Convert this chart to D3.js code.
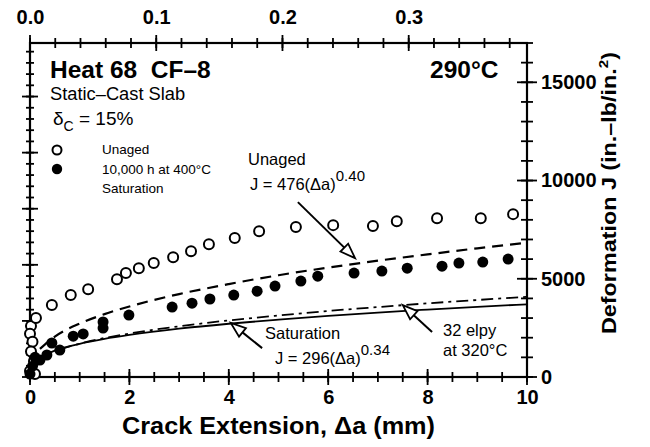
<!DOCTYPE html>
<html>
<head>
<meta charset="utf-8">
<script src="https://cdn.jsdelivr.net/npm/d3@7"></script>
<style>
  body { margin: 0; background: #fff; }
  svg { font-family: "Liberation Sans", Arial, Helvetica, sans-serif; }
</style>
</head>
<body>
<svg id="chart" width="650" height="447"></svg>
<script>
// open circles, unaged (crack ext in mm, J in in.-lb/in.^2)
let unagedDa = [0.0, 0.02, 0.0, 0.05, 0.02, 0.08, 0.1, 0.12, 0.44, 0.82, 1.17, 1.75, 1.93, 2.19, 2.49, 2.88, 3.24, 3.6, 4.12, 4.61, 5.35, 6.1, 6.9, 7.38, 8.19, 9.07, 9.72];
let unagedJ = [300, 2600, 2200, 1800, 1300, 800, 150, 3000, 3660, 4170, 4470, 4980, 5290, 5540, 5800, 6100, 6405, 6760, 7070, 7420, 7630, 7730, 7680, 7930, 8080, 8080, 8290];

// filled circles, 10,000 h at 400C
let agedDa = [0.0, 0.05, 0.1, 0.2, 0.34, 0.44, 0.6, 0.87, 1.07, 1.47, 1.47, 1.99, 2.86, 3.26, 3.62, 4.1, 4.57, 4.93, 5.45, 5.79, 6.52, 7.08, 7.59, 8.29, 8.63, 9.11, 9.62];
let agedJ = [150, 550, 1000, 860, 1120, 1730, 1370, 2080, 2190, 2490, 2800, 3150, 3560, 3760, 3970, 4170, 4370, 4630, 4880, 5130, 5290, 5390, 5540, 5640, 5800, 5850, 6000];

// fitted curves
let unagedFitDa = [0.2, 0.5, 1, 1.5, 2, 3, 4, 5, 6, 7, 8, 9, 10];
let unagedFitJ = [1430, 2060, 2720, 3200, 3590, 4220, 4730, 5180, 5570, 5920, 6240, 6550, 6830];
let satFitDa = [0.05, 0.1, 0.2, 0.5, 1, 1.5, 2, 3, 4, 5, 6, 7, 8, 9, 10];
let satFitJ = [610, 770, 980, 1340, 1690, 1940, 2140, 2460, 2710, 2920, 3110, 3280, 3430, 3570, 3700];
let elpyDa = [0.6, 1, 2, 3, 4, 5, 6, 7, 8, 9, 10];
let elpyJ = [1400, 1700, 2210, 2580, 2880, 3130, 3360, 3560, 3750, 3920, 4080];

let bottomLabels = [0, 2, 4, 6, 8, 10];
let topLabels = [0.0, 0.1, 0.2, 0.3];
let rightLabels = [0, 5000, 10000, 15000];

let svg = d3.select("#chart");
let pl = 30, pr = 527, pt = 43, pb = 377;

let x = d3.scaleLinear().domain([0, 10]).range([pl, pr]);
let xInch = d3.scaleLinear().domain([0, 10 / 25.4]).range([pl, pr]);
let y = d3.scaleLinear().domain([0, 17000]).range([pb, pt]);
let yKJ = d3.scaleLinear().domain([0, 17000 / 5.71]).range([pb, pt]);

// frame
svg.append("rect")
    .attr("x", pl).attr("y", pt)
    .attr("width", pr - pl).attr("height", pb - pt)
    .attr("fill", "none").attr("stroke", "#000").attr("stroke-width", 2.2);

// tick marks crossing an axis line
function hTicks(scale, vals, y0, half) {
    svg.append("g").selectAll("line").data(vals).join("line")
        .attr("x1", d => scale(d)).attr("x2", d => scale(d))
        .attr("y1", y0 - half).attr("y2", y0 + half)
        .attr("stroke", "#000").attr("stroke-width", 1.8);
}
function vTicks(scale, vals, x0, half) {
    svg.append("g").selectAll("line").data(vals).join("line")
        .attr("y1", d => scale(d)).attr("y2", d => scale(d))
        .attr("x1", x0 - half).attr("x2", x0 + half)
        .attr("stroke", "#000").attr("stroke-width", 1.8);
}
function labelsOnly(g) {
    g.select(".domain").remove();
    g.selectAll(".tick line").remove();
    g.selectAll("text").attr("font-size", 20).attr("font-weight", "bold").attr("fill", "#000");
}

// bottom axis
hTicks(x, d3.range(0, 10.01, 0.5), pb, 5);
hTicks(x, bottomLabels, pb, 8);
svg.append("g").attr("transform", `translate(0,${pb})`)
    .call(d3.axisBottom(x).tickValues(bottomLabels).tickSize(8).tickPadding(5))
    .call(labelsOnly);

// top axis (inches)
hTicks(xInch, d3.range(0, 0.39, 0.02), pt, 5);
hTicks(xInch, topLabels, pt, 8);
svg.append("g").attr("transform", `translate(0,${pt})`)
    .call(d3.axisTop(xInch).tickValues(topLabels).tickSize(8).tickPadding(11).tickFormat(d3.format(".1f")))
    .call(labelsOnly);

// left axis (kJ/m2), no labels
vTicks(yKJ, d3.range(0, 2951, 100), pl, 4);
vTicks(yKJ, d3.range(0, 2951, 500), pl, 8);

// right axis
vTicks(y, d3.range(0, 17001, 1000), pr, 6);
vTicks(y, rightLabels, pr, 10);
svg.append("g").attr("transform", `translate(${pr},0)`)
    .call(d3.axisRight(y).tickValues(rightLabels).tickSize(10).tickPadding(4).tickFormat(d3.format("d")))
    .call(labelsOnly);

// axis titles
svg.append("text")
    .attr("x", 122).attr("y", 434)
    .attr("textLength", 313).attr("lengthAdjust", "spacingAndGlyphs")
    .attr("font-size", 24).attr("font-weight", "bold")
    .text("Crack Extension, \u0394a (mm)");

let yt = svg.append("text")
    .attr("transform", "translate(616,193) rotate(-90)")
    .attr("text-anchor", "middle")
    .attr("textLength", 282).attr("lengthAdjust", "spacingAndGlyphs")
    .attr("font-size", 20).attr("font-weight", "bold");
yt.append("tspan").text("Deformation J  (in.\u2013lb/in.");
yt.append("tspan").attr("dy", -8).attr("font-size", 13).text("2");
yt.append("tspan").attr("dy", 8).text(")");

// curves
let lineGen = d3.line().x(d => x(d[0])).y(d => y(d[1])).curve(d3.curveMonotoneX);
let curveDefs = [
    {da: satFitDa, j: satFitJ, dash: null, w: 1.8},
    {da: elpyDa, j: elpyJ, dash: "12,5,3,5", w: 1.8},
    {da: unagedFitDa, j: unagedFitJ, dash: "11,7", w: 2.2}
];
curveDefs.forEach(c => {
    svg.append("path")
        .datum(d3.zip(c.da, c.j))
        .attr("d", lineGen)
        .attr("fill", "none").attr("stroke", "#000")
        .attr("stroke-width", c.w)
        .attr("stroke-dasharray", c.dash);
});

// points
svg.append("g").selectAll("circle")
    .data(d3.zip(unagedDa, unagedJ)).join("circle")
    .attr("cx", d => x(d[0])).attr("cy", d => y(d[1])).attr("r", 5)
    .attr("fill", "#fff").attr("stroke", "#000").attr("stroke-width", 2);
svg.append("g").selectAll("circle")
    .data(d3.zip(agedDa, agedJ)).join("circle")
    .attr("cx", d => x(d[0])).attr("cy", d => y(d[1])).attr("r", 5.5)
    .attr("fill", "#000");

// text block
svg.append("text").attr("x", 50).attr("y", 78)
    .attr("font-size", 24.5).attr("font-weight", "bold")
    .text("Heat 68\u00a0\u00a0CF\u20138");
svg.append("text").attr("x", 50).attr("y", 100)
    .attr("font-size", 18.3).text("Static\u2013Cast Slab");
let dc = svg.append("text").attr("x", 53).attr("y", 125).attr("font-size", 19);
dc.append("tspan").text("\u03b4");
dc.append("tspan").attr("dy", 6).attr("font-size", 14).text("C");
dc.append("tspan").attr("dy", -6).text(" = 15%");
svg.append("text").attr("x", 430).attr("y", 78)
    .attr("font-size", 24.5).attr("font-weight", "bold").text("290\u00b0C");

// legend
svg.append("circle").attr("cx", 57).attr("cy", 150).attr("r", 4.5)
    .attr("fill", "#fff").attr("stroke", "#000").attr("stroke-width", 2);
svg.append("circle").attr("cx", 57).attr("cy", 169).attr("r", 5.2).attr("fill", "#000");
[["Unaged", 154], ["10,000 h at 400\u00b0C", 174], ["Saturation", 193]].forEach(t => {
    svg.append("text").attr("x", 102).attr("y", t[1]).attr("font-size", 13.5).text(t[0]);
});

// annotations
function eq(xp, yp, body, sup) {
    let t = svg.append("text").attr("x", xp).attr("y", yp).attr("font-size", 16.5);
    t.append("tspan").text(body);
    t.append("tspan").attr("dy", -9).attr("font-size", 15).text(sup);
}
svg.append("text").attr("x", 248).attr("y", 165).attr("font-size", 16.5).text("Unaged");
eq(250, 190, "J = 476(\u0394a)", "0.40");
svg.append("text").attr("x", 265).attr("y", 339).attr("font-size", 16.5).text("Saturation");
eq(275, 364, "J = 296(\u0394a)", "0.34");
svg.append("text").attr("x", 443).attr("y", 336).attr("font-size", 16.5).text("32 elpy");
svg.append("text").attr("x", 443).attr("y", 356).attr("font-size", 16.5).text("at 320\u00b0C");

function arrow(tail, tip) {
    let x0 = x(tail[0]), y0 = y(tail[1]), x1 = x(tip[0]), y1 = y(tip[1]);
    let ang = Math.atan2(y1 - y0, x1 - x0);
    let len = 15, hw = 5.5;
    let bx = x1 - len * Math.cos(ang), by = y1 - len * Math.sin(ang);
    let px = -Math.sin(ang) * hw, py = Math.cos(ang) * hw;
    svg.append("line").attr("x1", x0).attr("y1", y0).attr("x2", bx).attr("y2", by)
        .attr("stroke", "#000").attr("stroke-width", 2);
    svg.append("path")
        .attr("d", `M${x1},${y1}L${bx + px},${by + py}L${bx - px},${by - py}Z`)
        .attr("fill", "#fff").attr("stroke", "#000").attr("stroke-width", 1.8);
}
arrow([5.39, 8900], [6.54, 6050]);
arrow([4.67, 1470], [4.04, 2750]);
arrow([8.09, 2290], [7.5, 3660]);
</script>
</body>
</html>
